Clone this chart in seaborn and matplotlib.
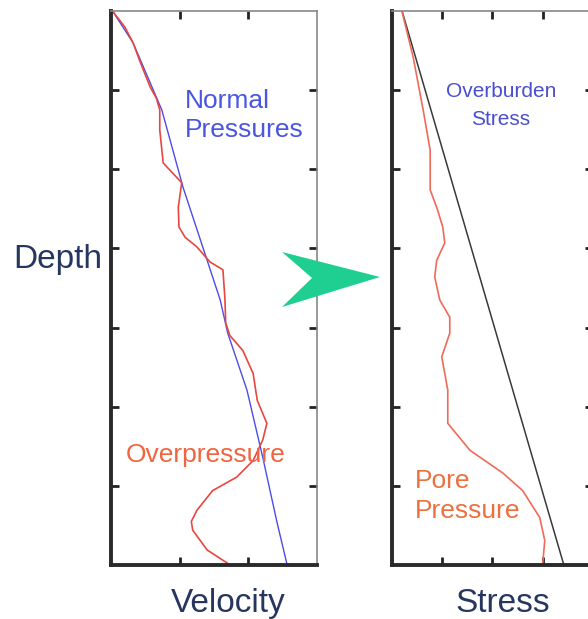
import numpy as np
import pandas as pd
import matplotlib
matplotlib.use("Agg")
import matplotlib.pyplot as plt
import seaborn as sns
from matplotlib.patches import Polygon

sns.set_style("white")
plt.rcParams['font.family'] = ['Liberation Sans', 'DejaVu Sans']

# --- data (depth 0 top .. 7 bottom) ---
normal_vel = [0.03, 0.32, 0.74, 1.05, 1.40, 1.59, 1.70, 1.98, 2.21, 2.42, 2.56]
normal_depth = [0.01, 0.40, 1.25, 2.23, 3.15, 3.65, 4.07, 4.79, 5.64, 6.47, 6.98]

over_vel = [0.03, 0.20, 0.32, 0.45, 0.57, 0.66, 0.71, 0.71, 0.76, 0.90, 1.03, 0.98,
            0.99, 1.08, 1.25, 1.44, 1.63, 1.66, 1.67, 1.73, 1.92, 2.07, 2.13, 2.27,
            2.21, 2.07, 1.83, 1.48, 1.25, 1.17, 1.19, 1.40, 1.70]
over_depth = [0.01, 0.20, 0.40, 0.70, 0.96, 1.10, 1.25, 1.50, 1.92, 2.05, 2.17, 2.48,
              2.73, 2.86, 2.98, 3.17, 3.27, 3.65, 3.94, 4.10, 4.29, 4.58, 4.92, 5.21,
              5.42, 5.68, 5.89, 6.06, 6.31, 6.45, 6.56, 6.81, 6.98]

overburden_stress = [0.2, 3.42]
overburden_depth = [0.0, 7.0]

pore_stress = [0.20, 0.42, 0.62, 0.76, 0.76, 0.90, 1.01, 1.05, 0.89, 0.85, 0.95, 1.15,
               1.15, 0.99, 1.11, 1.11, 1.55, 2.21, 2.60, 2.94, 3.04, 3.00]
pore_depth = [0.01, 0.58, 1.25, 1.76, 2.26, 2.50, 2.73, 2.93, 3.15, 3.36, 3.65, 3.87,
              4.07, 4.37, 4.79, 5.21, 5.55, 5.84, 6.06, 6.40, 6.69, 6.98]

W, H = 588, 619
fig = plt.figure(figsize=(W / 100, H / 100), dpi=100)

def fx(px):
    return px / W

def fy(py):
    return 1 - py / H

ax1 = fig.add_axes([fx(111), fy(565), (317 - 111) / W, (565 - 11) / H])
ax2 = fig.add_axes([fx(392), fy(565), (593 - 392) / W, (565 - 11) / H])

sns.lineplot(x=normal_vel, y=normal_depth, ax=ax1, color="#4c4ce6", lw=1.0,
             sort=False, estimator=None)
sns.lineplot(x=over_vel, y=over_depth, ax=ax1, color="#e8463f", lw=1.2,
             sort=False, estimator=None)
sns.lineplot(x=overburden_stress, y=overburden_depth, ax=ax2, color="#3a3a3a", lw=1.1,
             sort=False, estimator=None)
sns.lineplot(x=pore_stress, y=pore_depth, ax=ax2, color="#f06a5a", lw=1.2,
             sort=False, estimator=None)

ax1.set_xlim(0, 3)
ax2.set_xlim(0, 4)
for ax in (ax1, ax2):
    ax.set_ylim(7, 0)
    ax.set_yticks([1, 2, 3, 4, 5, 6])
    ax.set_yticklabels([])
    ax.set_xticklabels([])
    ax.set_xlabel("")
    ax.set_ylabel("")
    ax.tick_params(direction="in", length=6, width=2, color="#222222",
                   top=True, right=True, bottom=True, left=True)
    ax.spines["left"].set_linewidth(2.8)
    ax.spines["left"].set_color("#2a2a2a")
    ax.spines["bottom"].set_linewidth(2.8)
    ax.spines["bottom"].set_color("#2a2a2a")
    ax.spines["top"].set_linewidth(1.2)
    ax.spines["top"].set_color("#888888")
    ax.spines["right"].set_linewidth(1.2)
    ax.spines["right"].set_color("#888888")
ax1.set_xticks([1, 2])
ax2.set_xticks([1, 2, 3])

navy = "#27365f"
fig.text(fx(13), fy(260), "Depth", color=navy, fontsize=24, ha="left", va="center")
fig.text(fx(228), fy(612), "Velocity", color=navy, fontsize=24, ha="center", va="baseline")
fig.text(fx(503), fy(612), "Stress", color=navy, fontsize=24, ha="center", va="baseline")

blue_txt = "#4a55e2"
fig.text(fx(185), fy(108), "Normal", color=blue_txt, fontsize=19, ha="left", va="baseline")
fig.text(fx(185), fy(137), "Pressures", color=blue_txt, fontsize=19, ha="left", va="baseline")
fig.text(fx(501), fy(97), "Overburden", color="#4a4ed0", fontsize=15, ha="center", va="baseline")
fig.text(fx(501), fy(125), "Stress", color="#4a4ed0", fontsize=15, ha="center", va="baseline")

orange_txt = "#f0643f"
fig.text(fx(206), fy(462), "Overpressure", color=orange_txt, fontsize=19, ha="center", va="baseline")
fig.text(fx(415), fy(488), "Pore", color="#ec7040", fontsize=19, ha="left", va="baseline")
fig.text(fx(415), fy(518), "Pressure", color="#ec7040", fontsize=19, ha="left", va="baseline")

# green chevron arrow between the panels
arrow_px = [(282, 252), (380, 277), (282, 307), (312, 278)]
arrow = Polygon([(fx(x), fy(y)) for x, y in arrow_px], closed=True,
                transform=fig.transFigure, facecolor="#1fcf92", edgecolor="none",
                zorder=10)
fig.patches.append(arrow)

fig.savefig("out.png", dpi=100)
